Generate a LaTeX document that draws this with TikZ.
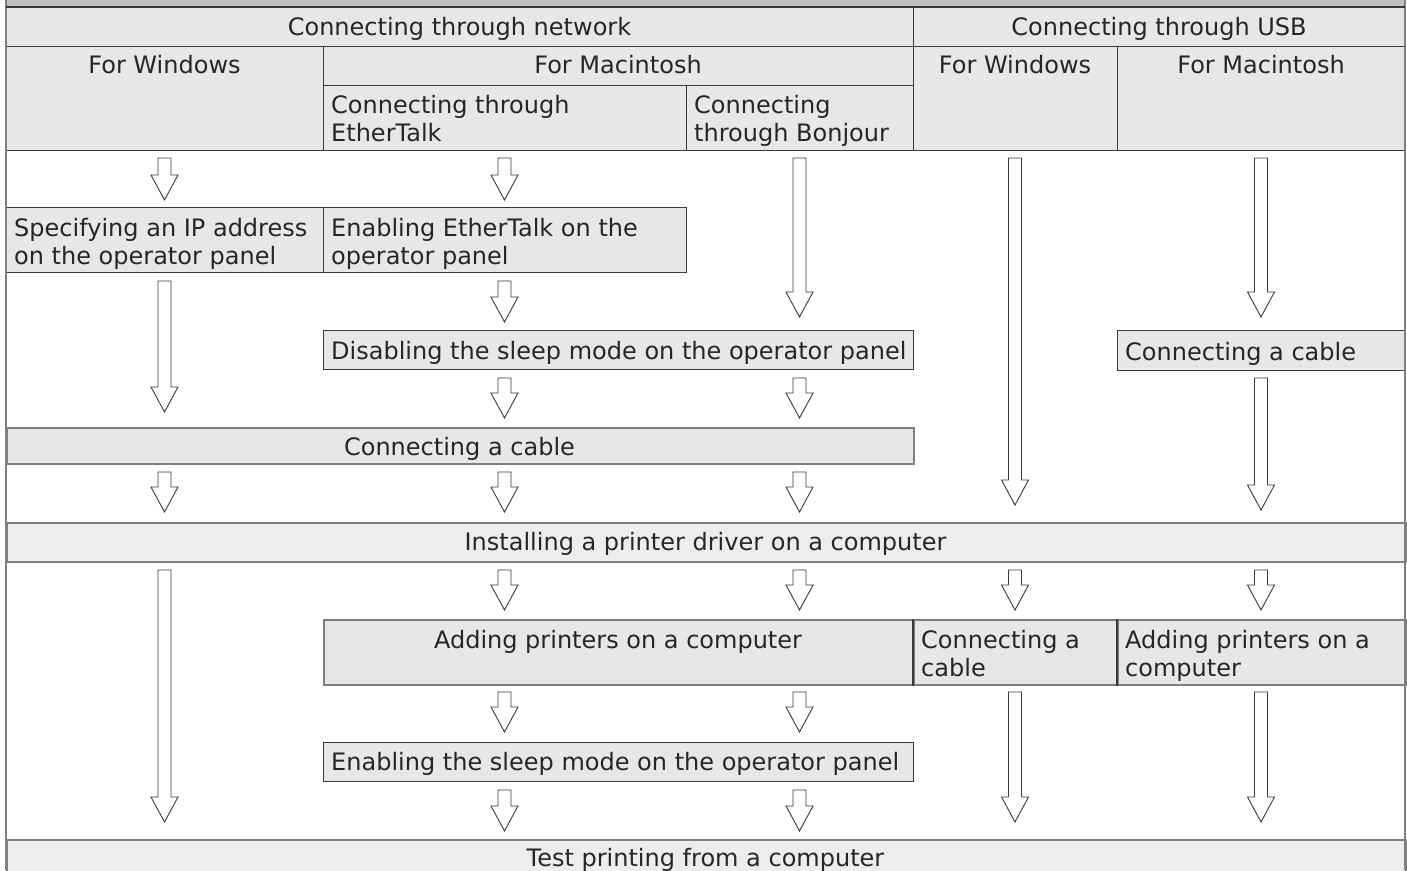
\documentclass[tikz,border=0pt]{standalone}
\usepackage{fontspec}
\setmainfont{DejaVu Sans}
\definecolor{hdr}{HTML}{E6E7E8}
\definecolor{barfill}{HTML}{EDEDED}
\definecolor{topband}{HTML}{BCBEC0}
\definecolor{ln}{HTML}{3A3A3A}
\definecolor{lg}{HTML}{808080}
\definecolor{txtc}{HTML}{262626}
\newcommand\flowarrow[3]{%
  \draw[blockarrow] (#1-6.5,#2) -- (#1+6.5,#2) -- (#1+6.5,#3-25) -- (#1+13.5,#3-25)
    -- (#1,#3) -- (#1-13.5,#3-25) -- (#1-6.5,#3-25) -- cycle;}
\begin{document}
\begin{tikzpicture}[x=1pt,y=-1pt,
  cellbox/.style={draw=ln, line width=1.1pt, fill=hdr, inner sep=0, anchor=north west},
  barbox/.style={draw=lg, line width=1.8pt, fill=barfill, inner sep=0, anchor=north west},
  graybox/.style={draw=lg, line width=1.6pt, fill=hdr, inner sep=0, anchor=north west},
  txt/.style={inner sep=0, font=\fontsize{24}{28.5}\selectfont, text=txtc},
  blockarrow/.style={draw=ln, line width=0.9pt, fill=white, line join=miter}]
\useasboundingbox (0,0) rectangle (1407,870);
\fill[white] (0,0) rectangle (1407,870);
% top band
\fill[topband] (6,0) rectangle (1405,7);
% header cells
\node[cellbox, minimum width=907, minimum height=39] (hnet) at (6,7) {};
\node[cellbox, minimum width=492, minimum height=39] (husb) at (913,7) {};
\node[cellbox, minimum width=317, minimum height=104] (hnw) at (6,46) {};
\node[cellbox, minimum width=590, minimum height=39] (hnm) at (323,46) {};
\node[cellbox, minimum width=363, minimum height=65] (hne) at (323,85) {};
\node[cellbox, minimum width=227, minimum height=65] (hnb) at (686,85) {};
\node[cellbox, minimum width=204, minimum height=104] (huw) at (913,46) {};
\node[cellbox, minimum width=288, minimum height=104] (hum) at (1117,46) {};
\node[txt, anchor=base] (thnet) at (459.5,35) {Connecting through network};
\node[txt, anchor=base] (thusb) at (1159,35) {Connecting through USB};
\node[txt, anchor=base] (thnw) at (164.5,73) {For Windows};
\node[txt, anchor=base] (thnm) at (618,73) {For Macintosh};
\node[txt, anchor=base west] (thne1) at (331,113) {Connecting through};
\node[txt, anchor=base west] (thne2) at (331,141.5) {EtherTalk};
\node[txt, anchor=base west] (thnb1) at (694,113) {Connecting};
\node[txt, anchor=base west] (thnb2) at (694,141.5) {through Bonjour};
\node[txt, anchor=base] (thuw) at (1015,73) {For Windows};
\node[txt, anchor=base] (thum) at (1261,73) {For Macintosh};
% process boxes
\node[cellbox, minimum width=317, minimum height=65] (ip) at (6,207) {};
\node[txt, anchor=base west] (ip1) at (14,236) {Specifying an IP address};
\node[txt, anchor=base west] (ip2) at (14,264.5) {on the operator panel};
\node[cellbox, minimum width=363, minimum height=65] (eth) at (323,207) {};
\node[txt, anchor=base west] (eth1) at (331,236) {Enabling EtherTalk on the};
\node[txt, anchor=base west] (eth2) at (331,264.5) {operator panel};
\node[cellbox, minimum width=590, minimum height=39] (dis) at (323,330) {};
\node[txt, anchor=base west] (dis1) at (331,359) {Disabling the sleep mode on the operator panel};
\node[cellbox, minimum width=288, minimum height=40] (ucab) at (1117,330) {};
\node[txt, anchor=base west] (ucab1) at (1125,360) {Connecting a cable};
\node[graybox, minimum width=907, minimum height=36] (ncab) at (6,427) {};
\node[txt, anchor=base] (ncab1) at (459.5,455) {Connecting a cable};
\node[barbox, minimum width=1399, minimum height=39] (inst) at (6,522) {};
\node[txt, anchor=base] (inst1) at (705.5,550) {Installing a printer driver on a computer};
\node[graybox, minimum width=590, minimum height=65] (add) at (323,619) {};
\node[txt, anchor=base] (add1) at (618,648) {Adding printers on a computer};
\node[graybox, minimum width=204, minimum height=65] (uwcab) at (913,619) {};
\node[txt, anchor=base west] (uwcab1) at (921,648) {Connecting a};
\node[txt, anchor=base west] (uwcab2) at (921,676.5) {cable};
\node[graybox, minimum width=288, minimum height=65] (uadd) at (1117,619) {};
\node[txt, anchor=base west] (uadd1) at (1125,648) {Adding printers on a};
\node[txt, anchor=base west] (uadd2) at (1125,676.5) {computer};
\draw[ln, line width=1.1pt] (uwcab.north west) -- (uwcab.south west) (uadd.north west) -- (uadd.south west);
\node[cellbox, minimum width=590, minimum height=39] (ensl) at (323,742) {};
\node[txt, anchor=base west] (ensl1) at (331,770) {Enabling the sleep mode on the operator panel};
\node[barbox, minimum width=1399, minimum height=45] (test) at (6,839) {};
\node[txt, anchor=base] (test1) at (705.5,866) {Test printing from a computer};
% arrows
\flowarrow{164.5}{158}{200}
\flowarrow{504.5}{158}{200}
\flowarrow{799.5}{158}{317}
\flowarrow{1015}{158}{505}
\flowarrow{1261}{158}{317}
\flowarrow{164.5}{281}{412}
\flowarrow{504.5}{281}{322}
\flowarrow{504.5}{378}{418}
\flowarrow{799.5}{378}{418}
\flowarrow{1261}{378}{510}
\flowarrow{164.5}{472}{512}
\flowarrow{504.5}{472}{512}
\flowarrow{799.5}{472}{512}
\flowarrow{164.5}{570}{822}
\flowarrow{504.5}{570}{610}
\flowarrow{799.5}{570}{610}
\flowarrow{1015}{570}{610}
\flowarrow{1261}{570}{610}
\flowarrow{504.5}{692}{732}
\flowarrow{799.5}{692}{732}
\flowarrow{1015}{692}{822}
\flowarrow{1261}{692}{822}
\flowarrow{504.5}{790}{831}
\flowarrow{799.5}{790}{831}
% outer frame
\draw[lg, line width=2pt] (6,0) -- (6,870);
\draw[lg, line width=2pt] (1405,0) -- (1405,870);
\draw[ln, line width=1.1pt] (6,7) -- (1405,7);
\end{tikzpicture}
\end{document}
